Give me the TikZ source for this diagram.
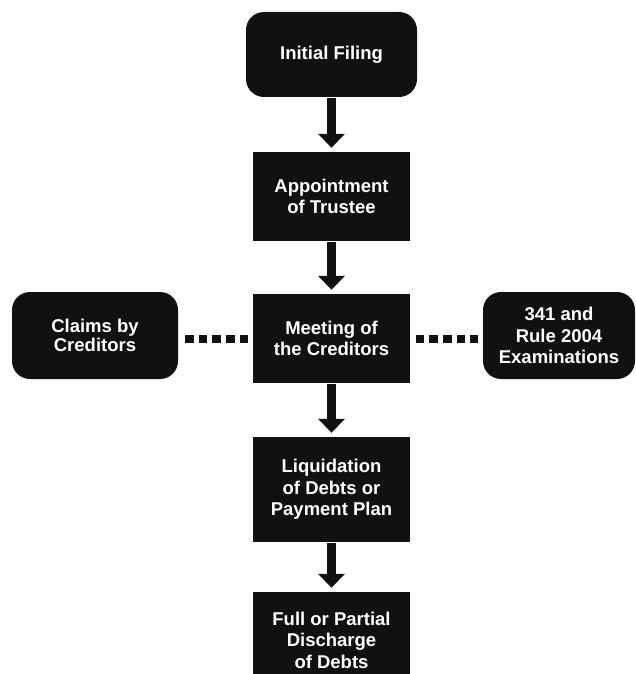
\documentclass[tikz,border=0pt]{standalone}
\usepackage{fontspec}
\setmainfont{Liberation Sans}
\usetikzlibrary{arrows.meta}
\definecolor{boxfill}{HTML}{111111}

\begin{document}
\begin{tikzpicture}[x=1pt,y=-1pt,
  box/.style={fill=boxfill, text=white, inner sep=0pt, align=center,
    font=\fontsize{18.5}{21.5}\selectfont\bfseries},
  roundbox/.style={box, rounded corners=18pt},
  flow/.style={line width=9pt, draw=boxfill,
    -{Triangle[width=26pt,length=14pt]}, shorten <=1pt, shorten >=4pt},
  dots/.style={line width=8pt, draw=boxfill, dash pattern=on 8.6pt off 5pt}]

  % page frame
  \path[use as bounding box, clip] (0,0) rectangle (636,674);

  % main column
  \node[roundbox, minimum width=171pt, minimum height=85pt] (filing) at (331.5,54.5) {Initial Filing};
  \node[box, minimum width=157pt, minimum height=89pt] (trustee) at (331.5,196.5) {Appointment\\of Trustee};
  \node[box, minimum width=157pt, minimum height=89pt] (meeting) at (331.5,338.5) {Meeting of\\the Creditors};
  \node[box, minimum width=157pt, minimum height=105pt] (plan) at (331.5,489.5) {Liquidation\\of Debts or\\Payment Plan};
  \node[box, minimum width=157pt, minimum height=96pt] (discharge) at (331.5,640) {Full or Partial\\Discharge\\of Debts};

  % side boxes
  \node[roundbox, minimum width=166pt, minimum height=87pt,
    font=\fontsize{18.5}{19}\selectfont\bfseries] (claims) at (95,335.5) {Claims by\\Creditors};
  \node[roundbox, minimum width=152pt, minimum height=87pt] (exams) at (559,335.5) {341 and\\Rule 2004\\Examinations};

  % flow arrows
  \draw[flow] (filing.south) -- (trustee.north);
  \draw[flow] (trustee.south) -- (meeting.north);
  \draw[flow] (meeting.south) -- (plan.north);
  \draw[flow] (plan.south) -- (discharge.north);

  % dotted links
  \draw[dots, shorten <=7pt, shorten >=5pt] (claims.east |- meeting.west) -- (meeting.west);
  \draw[dots, shorten <=5.5pt, shorten >=5pt] (meeting.east) -- (exams.west |- meeting.east);
\end{tikzpicture}
\end{document}
